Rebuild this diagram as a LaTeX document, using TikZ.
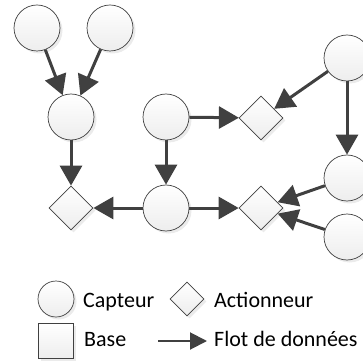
\documentclass[tikz,border=0pt]{standalone}
\usepackage{fontspec}
\setmainfont{Carlito}
\usetikzlibrary{arrows.meta,shapes.geometric,shadows}
\definecolor{trait}{HTML}{404040}

\begin{document}
\begin{tikzpicture}[x=1pt,y=-1pt,
    forme/.style={draw=trait,line width=0.7pt,top color=white,bottom color=gray!14,inner sep=0pt,
      drop shadow={opacity=0.16,shadow xshift=2.5pt,shadow yshift=-2.5pt}},
    capteur/.style={forme,circle,minimum size=46pt},
    actionneur/.style={forme,diamond,minimum width=44pt,minimum height=44pt},
    flot/.style={draw=trait,line width=3pt,-{Triangle[length=20pt,width=22pt]}},
    legende/.style={anchor=base west,inner sep=0pt,font=\fontsize{22}{26}\selectfont}]
  \useasboundingbox (0,0) rectangle (363,363);
  \clip (0,0) rectangle (363,363);
  % capteurs
  \foreach \n/\x/\y in {c1/37/28, c2/110/28, c3/71/117, c4/166/117, c5/166/208,
                         c6/347/58, c7/347/178, c8/347/237}
    \node[capteur] (\n) at (\x,\y) {};
  % actionneurs
  \node[actionneur] (a1) at (71,208) {};
  \node[actionneur] (a2) at (261,208) {};
  \node[actionneur] (a3) at (261,118) {};
  % flots
  \draw[flot] (c1) -- (c3);
  \draw[flot] (c2) -- (c3);
  \draw[flot] (c3) -- (a1);
  \draw[flot] (c4) -- (c5);
  \draw[flot] (c5) -- (a1);
  \draw[flot] (c5) -- (a2);
  \draw[flot] (c4) -- (a3);
  \draw[flot] (c6) -- (a3);
  \draw[flot] (c6) -- (c7);
  \draw[flot] (c7) -- (a2);
  \draw[flot] (c8) -- (a2);
  % legende
  \node[forme,circle,minimum size=36pt] (lc) at (56,299) {};
  \node[legende] (tc) at (83,307) {Capteur};
  \node[forme,diamond,minimum width=34pt,minimum height=34pt] (la) at (187,299) {};
  \node[legende] (ta) at (214,307) {Actionneur};
  \node[forme,minimum width=35pt,minimum height=35pt] (lb) at (56,341) {};
  \node[legende] (tb) at (84,346) {Base};
  \coordinate (fa) at (158,341);
  \coordinate (fb) at (207,341);
  \draw[draw=trait,line width=2pt,-{Triangle[length=17pt,width=17pt]}] (fa) -- (fb);
  \node[legende] (tf) at (214,346) {Flot de données};
\end{tikzpicture}
\end{document}
